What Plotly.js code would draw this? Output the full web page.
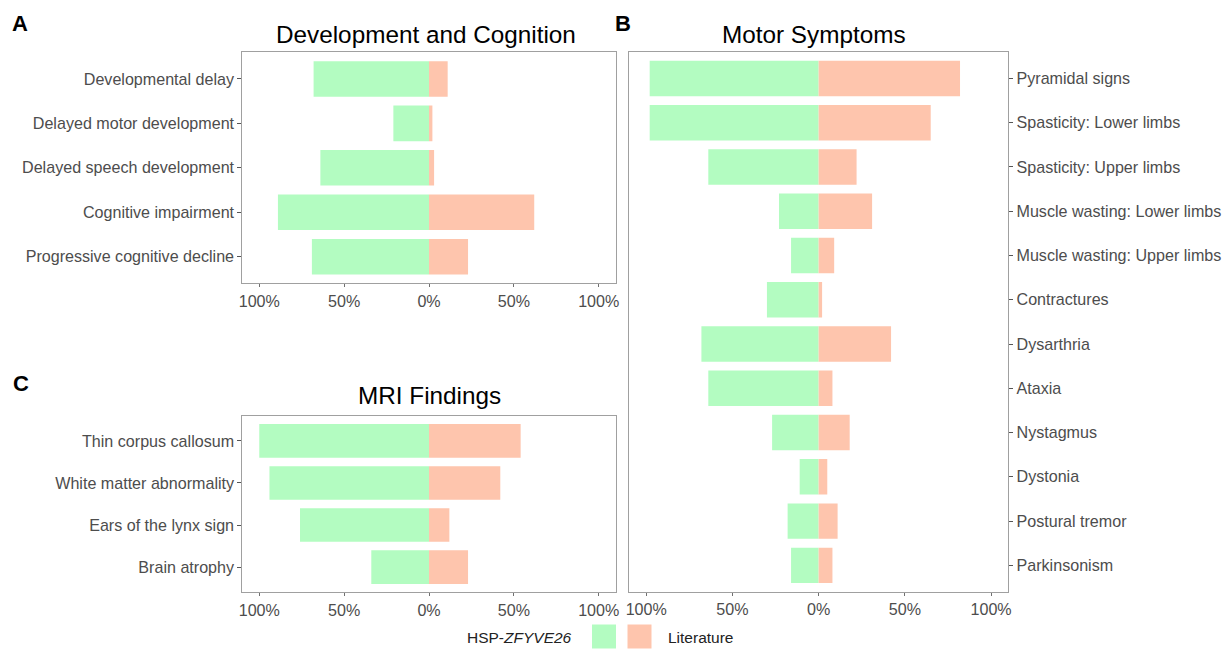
<!DOCTYPE html>
<html>
<head>
<meta charset="utf-8">
<script src="https://cdn.plot.ly/plotly-3.0.1.min.js"></script>
<style>html,body{margin:0;padding:0;background:#fff;overflow:hidden}#chart{width:1228px;height:649px}</style>
</head>
<body>
<div id="chart"></div>
<script>
// ---- Data (fractions of patients) ----
const devCategories = ["Developmental delay","Delayed motor development","Delayed speech development","Cognitive impairment","Progressive cognitive decline"];
const devHSP = [0.68, 0.21, 0.64, 0.89, 0.69];
const devLit = [0.11, 0.02, 0.03, 0.62, 0.23];

const motorCategories = ["Pyramidal signs","Spasticity: Lower limbs","Spasticity: Upper limbs","Muscle wasting: Lower limbs","Muscle wasting: Upper limbs","Contractures","Dysarthria","Ataxia","Nystagmus","Dystonia","Postural tremor","Parkinsonism"];
const motorHSP = [0.98, 0.98, 0.64, 0.23, 0.16, 0.30, 0.68, 0.64, 0.27, 0.11, 0.18, 0.16];
const motorLit = [0.82, 0.65, 0.22, 0.31, 0.09, 0.02, 0.42, 0.08, 0.18, 0.05, 0.11, 0.08];

const mriCategories = ["Thin corpus callosum","White matter abnormality","Ears of the lynx sign","Brain atrophy"];
const mriHSP = [1.00, 0.94, 0.76, 0.34];
const mriLit = [0.54, 0.42, 0.12, 0.23];

const xTickVals = [-1, -0.5, 0, 0.5, 1];
const xTickText = ["100%", "50%", "0%", "50%", "100%"];
const seriesNames = ["HSP-ZFYVE26", "Literature"];

// ---- Styles ----
const GREEN = "#b3fcc1";
const SALMON = "#fec5ad";
const FONT = "Liberation Sans, Arial, Helvetica, sans-serif";
const TICKCOL = "#4d4d4d";
const TICKSIZE = 16.1;
const TITLESIZE = 24.3;
const W = 1228, H = 649;
const px = v => v / W;
const py = v => 1 - v / H;

function panelTraces(cats, hsp, lit, xa, ya) {
  return [
    {type: "bar", orientation: "h", y: cats, x: hsp.map(v => -v), name: seriesNames[0],
     marker: {color: GREEN, line: {width: 0}}, xaxis: xa, yaxis: ya, showlegend: false},
    {type: "bar", orientation: "h", y: cats, x: lit, name: seriesNames[1],
     marker: {color: SALMON, line: {width: 0}}, xaxis: xa, yaxis: ya, showlegend: false}
  ];
}

const data = [
  ...panelTraces(devCategories, devHSP, devLit, "x", "y"),
  ...panelTraces(motorCategories, motorHSP, motorLit, "x2", "y2"),
  ...panelTraces(mriCategories, mriHSP, mriLit, "x3", "y3")
];

function xAxis(domain, anchor) {
  return {domain: domain, anchor: anchor, range: [-1.1, 1.1], tickvals: xTickVals, ticktext: xTickText,
    showgrid: false, zeroline: false, showline: true, mirror: true, linecolor: "#a0a0a0", linewidth: 1,
    ticks: "outside", ticklen: 3, tickcolor: "#707070", tickfont: {family: FONT, size: TICKSIZE, color: TICKCOL},
    fixedrange: true};
}
function yAxis(domain, anchor, cats, side) {
  return {domain: domain, anchor: anchor, type: "category", categoryorder: "array", categoryarray: cats,
    range: [cats.length - 0.4, -0.6], side: side,
    showgrid: false, zeroline: false, showline: true, mirror: true, linecolor: "#a0a0a0", linewidth: 1,
    ticks: "outside", ticklen: 4, tickcolor: "#555555", tickfont: {family: FONT, size: TICKSIZE, color: TICKCOL},
    fixedrange: true};
}

const domA_x = [px(242.3), px(615.7)], domA_y = [py(283.3), py(52.3)];
const domB_x = [px(629), px(1008.3)], domB_y = [py(591.9), py(51.9)];
const domC_x = [px(242.3), px(615.7)], domC_y = [py(592.3), py(415.7)];

const ann = (text, x, y, size, opts) => Object.assign({text: text, x: px(x), y: py(y), xref: "paper", yref: "paper",
  showarrow: false, xanchor: "center", yanchor: "middle", font: {family: FONT, size: size, color: "#000"}}, opts || {});

const layout = {
  width: W, height: H, margin: {l: 0, r: 0, t: 0, b: 0},
  paper_bgcolor: "#fff", plot_bgcolor: "#fff",
  barmode: "relative", bargap: 0.2, showlegend: false,
  xaxis: xAxis(domA_x, "y"), yaxis: yAxis(domA_y, "x", devCategories, "left"),
  xaxis2: xAxis(domB_x, "y2"), yaxis2: yAxis(domB_y, "x2", motorCategories, "right"),
  xaxis3: xAxis(domC_x, "y3"), yaxis3: yAxis(domC_y, "x3", mriCategories, "left"),
  annotations: [
    ann("<b>A</b>", 20, 24, 22),
    ann("<b>B</b>", 623, 24, 22),
    ann("<b>C</b>", 21, 383, 22),
    ann("Development and Cognition", 426, 34, TITLESIZE),
    ann("Motor Symptoms", 814, 34, TITLESIZE),
    ann("MRI Findings", 429, 395, TITLESIZE),
    ann("HSP-<i>ZFYVE26</i>", 574, 637, 15.5, {xanchor: "right", font: {family: FONT, size: 15.5, color: "#222"}}),
    ann("Literature", 666, 637, 15.5, {xanchor: "left", font: {family: FONT, size: 15.5, color: "#222"}})
  ],
  shapes: [
    {type: "rect", xref: "paper", yref: "paper", x0: px(592), x1: px(616), y0: py(648.5), y1: py(624.5), fillcolor: GREEN, line: {width: 0}},
    {type: "rect", xref: "paper", yref: "paper", x0: px(627.5), x1: px(651.5), y0: py(648.5), y1: py(624.5), fillcolor: SALMON, line: {width: 0}}
  ]
};

Plotly.newPlot("chart", data, layout, {displayModeBar: false, staticPlot: true});
</script>
</body>
</html>
